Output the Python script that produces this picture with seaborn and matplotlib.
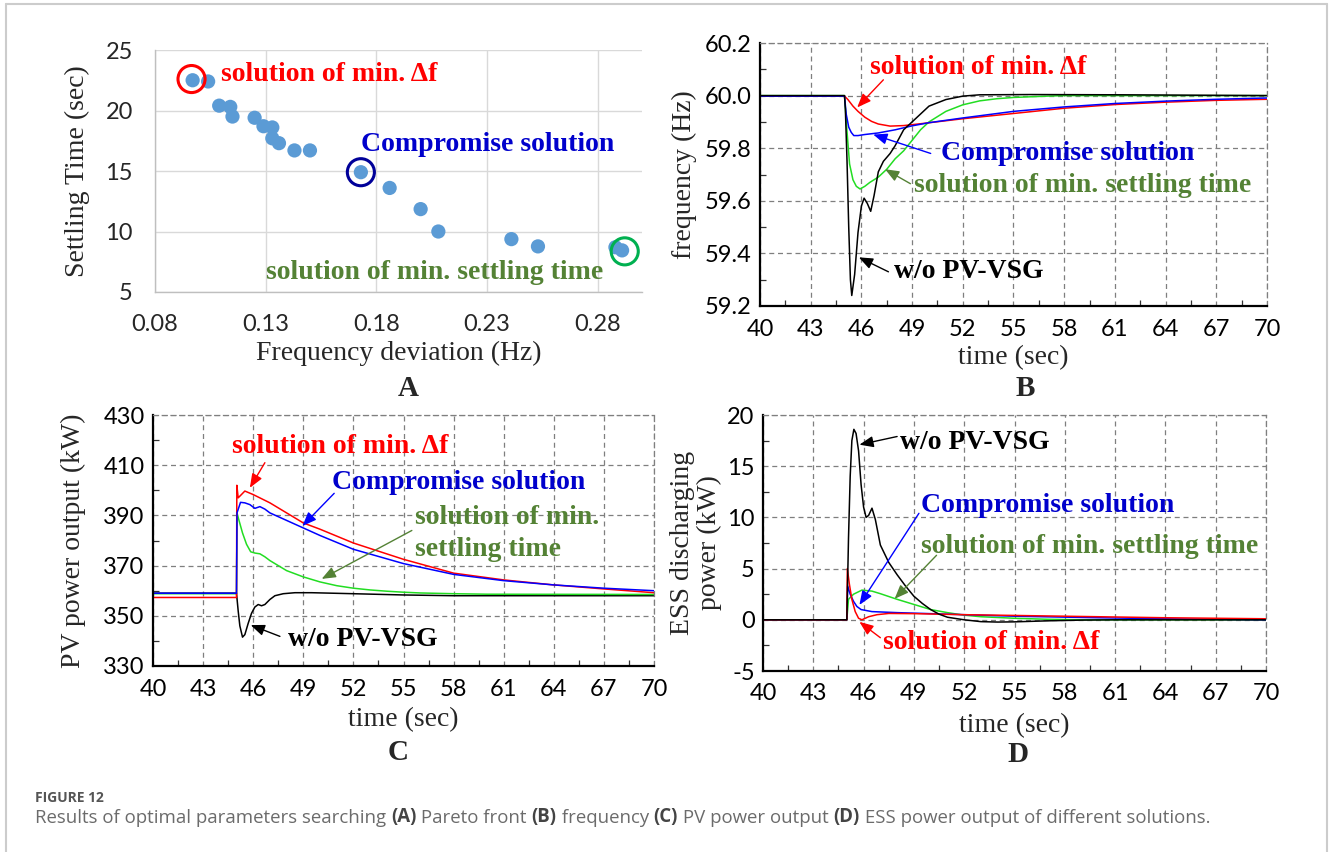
import matplotlib
matplotlib.use("Agg")
import matplotlib.pyplot as plt
import seaborn as sns
from matplotlib.ticker import MultipleLocator, FormatStrFormatter
from matplotlib.lines import Line2D

# ---- (A) Pareto front ----
freq_dev = [0.097, 0.104, 0.109, 0.114, 0.115, 0.125, 0.129, 0.133, 0.133, 0.136,
            0.143, 0.150, 0.173, 0.186, 0.200, 0.208, 0.241, 0.253, 0.288, 0.291]
settling_time = [22.5, 22.4, 20.4, 20.3, 19.5, 19.4, 18.7, 18.6, 17.7, 17.3,
                 16.7, 16.7, 14.9, 13.6, 11.85, 10.0, 9.37, 8.77, 8.7, 8.44]
chosen_dev = [0.0965, 0.173, 0.2922]
chosen_time = [22.6, 14.9, 8.36]

# ---- (B) frequency ----
b_t_black = [40, 45.0, 45.05, 45.15, 45.25, 45.35, 45.43, 45.6, 45.8, 46.0, 46.16, 46.35, 46.55,
             46.75, 47.0, 47.3, 47.7, 48.0, 48.5, 49.0, 49.5, 50.0, 51.0, 52.0, 53.0, 56.0, 61.5, 70]
b_f_black = [60.0, 60.0, 59.95, 59.75, 59.5, 59.3, 59.24, 59.32, 59.48, 59.58, 59.61, 59.59, 59.56,
             59.62, 59.71, 59.75, 59.78, 59.81, 59.87, 59.90, 59.93, 59.96, 59.985, 59.998, 60.003,
             60.004, 60.003, 60.0]
b_t_green = [40, 45.0, 45.14, 45.3, 45.5, 45.7, 45.92, 46.2, 46.5, 47.0, 47.5, 48.0, 48.5, 49.0,
             49.5, 50.0, 51.0, 52.0, 53.0, 54.0, 55.0, 57.0, 58.0, 70]
b_f_green = [60.0, 60.0, 59.87, 59.74, 59.68, 59.655, 59.645, 59.655, 59.67, 59.69, 59.72, 59.76,
             59.79, 59.83, 59.87, 59.90, 59.94, 59.965, 59.98, 59.988, 59.993, 59.998, 60.0, 60.0]
b_t_blue = [40, 45.0, 45.1, 45.25, 45.4, 45.55, 45.8, 46.2, 47.0, 48.0, 49.0, 50.0, 52.0, 55.0,
            58.0, 61.0, 64.0, 67.0, 70]
b_f_blue = [59.998, 59.998, 59.93, 59.88, 59.86, 59.848, 59.848, 59.852, 59.858, 59.87, 59.885,
            59.897, 59.915, 59.94, 59.957, 59.97, 59.979, 59.986, 59.991]
b_t_red = [40, 45.0, 45.2, 45.5, 45.8, 46.2, 46.6, 47.0, 47.7, 48.5, 49.5, 52.0, 55.0, 58.0,
           61.0, 64.0, 67.0, 70]
b_f_red = [59.998, 59.998, 59.985, 59.96, 59.94, 59.918, 59.902, 59.892, 59.884, 59.886, 59.893,
           59.912, 59.932, 59.952, 59.966, 59.975, 59.982, 59.986]

# ---- (C) PV power output ----
c_t_black = [40, 45.0, 45.1, 45.2, 45.36, 45.5, 45.7, 45.9, 46.1, 46.3, 46.5, 46.7, 47.0, 47.3,
             47.8, 48.5, 49.5, 52, 55, 58, 70]
c_p_black = [359, 359, 352, 346, 341.5, 342.5, 347, 351, 353.5, 354.5, 354, 354.5, 356.5, 358,
             358.8, 359.2, 359.2, 358.8, 358.3, 358, 358]
c_t_green = [40, 45.0, 45.03, 45.15, 45.36, 45.6, 45.85, 46.1, 46.4, 46.7, 47, 48, 49, 50, 51,
             52, 53, 54, 55, 56, 58, 60, 70]
c_p_green = [358.8, 358.8, 391, 388, 383, 378.5, 375.5, 375, 374.7, 373.5, 372, 368, 365.5,
             363.5, 362, 361, 360.3, 359.8, 359.4, 359.1, 358.8, 358.6, 358.5]
c_t_red = [40, 45.0, 45.02, 45.1, 45.25, 45.5, 46.0, 47, 48, 49, 50, 52, 55, 58, 61, 64, 67, 70]
c_p_red = [357.3, 357.3, 402, 397, 398, 399.7, 398.3, 395, 391, 387, 384.5, 379, 372.5, 367,
           364.3, 362.3, 360.7, 359.2]
c_t_blue = [40, 45.0, 45.03, 45.24, 45.5, 45.8, 46.1, 46.4, 46.7, 47, 48, 49, 50, 52, 55, 58,
            61, 64, 67, 70]
c_p_blue = [359, 359, 391, 395.2, 395, 394.3, 392.8, 393.5, 392.5, 391, 388, 385, 382, 376.5,
            370.8, 366.5, 364, 362.3, 361, 360]

# ---- (D) ESS discharging power ----
d_t_black = [40, 45.0, 45.1, 45.2, 45.3, 45.42, 45.55, 45.7, 45.85, 46.0, 46.15, 46.3, 46.5,
             46.7, 47.0, 47.5, 48.0, 48.5, 49.0, 49.5, 50.0, 50.5, 51.0, 52.0, 53.0, 54.0, 55.0,
             57.0, 59.0, 61.0, 70]
d_e_black = [0, 0, 8, 14, 17.5, 18.6, 18.2, 16.5, 13.2, 11, 10.0, 10.2, 10.9, 9.8, 7.3, 5.6,
             4.4, 3.3, 2.3, 1.6, 1.0, 0.55, 0.25, 0.0, -0.18, -0.22, -0.2, -0.1, -0.03, 0, 0]
d_t_red = [40, 45.0, 45.03, 45.15, 45.3, 45.5, 45.7, 45.9, 46.3, 46.8, 47.5, 49, 52, 56, 60,
           64, 67, 70]
d_e_red = [0, 0, 5.0, 3.5, 2.0, 0.8, 0.15, 0.0, 0.3, 0.5, 0.62, 0.6, 0.5, 0.4, 0.3, 0.2, 0.15, 0.1]
d_t_blue = [40, 45.0, 45.05, 45.2, 45.4, 45.6, 45.85, 46.5, 48, 50, 52, 55, 60, 64, 67, 70]
d_e_blue = [0, 0, 3.3, 2.5, 1.8, 1.3, 1.0, 0.8, 0.7, 0.6, 0.5, 0.35, 0.2, 0.1, 0.05, 0.0]
d_t_green = [40, 45.0, 45.1, 45.4, 45.9, 46.5, 47, 48, 49, 50, 51, 52, 53, 55, 57, 59, 70]
d_e_green = [0, 0, 2.0, 2.5, 2.9, 2.8, 2.55, 2.0, 1.5, 1.0, 0.7, 0.45, 0.3, 0.15, 0.05, 0.0, 0.0]

# colours
RED, BLUE, GREEN, BLACK = "#FF0000", "#0000FF", "#22DD22", "#000000"
T_RED, T_BLUE, T_GREEN = "#FF0000", "#0000CC", "#548235"
DOT = "#5B9BD5"

W, H = 1332, 852
SERIF = ["Liberation Serif", "DejaVu Serif"]
NOTE_SIZE = 20
TICK_SIZE = 17
LABEL_SIZE = 20

sns.set_theme(style="white")
plt.rcParams["font.family"] = SERIF
plt.rcParams["axes.unicode_minus"] = False

fig = plt.figure(figsize=(W / 100, H / 100), dpi=100)


def px_box(l, r, t, b):
    return [l / W, 1 - b / H, (r - l) / W, (b - t) / H]


def label_coords(ax, box, ylab_x, xlab_y):
    l, r, t, b = box
    ax.yaxis.set_label_coords((ylab_x - l) / (r - l), 0.5)
    ax.xaxis.set_label_coords(0.5, -(xlab_y - b) / (b - t))


def note(ax, x, y, s, color):
    ax.text(x, y, s, color=color, fontsize=NOTE_SIZE, fontweight="bold", va="center",
            ha="left", family=SERIF)


def arrow(ax, tail, head, color):
    ax.annotate("", xy=head, xytext=tail,
                arrowprops=dict(arrowstyle="-|>,head_length=0.7,head_width=0.28",
                                color=color, lw=1.0, shrinkA=0, shrinkB=0))


def style_time_axes(ax, ylim, step, offset, fmt):
    ax.set_xlim(40, 70)
    ax.set_ylim(*ylim)
    ax.xaxis.set_major_locator(MultipleLocator(3, offset=1))
    ax.xaxis.set_minor_locator(MultipleLocator(1.5, offset=1))
    ax.yaxis.set_major_locator(MultipleLocator(step, offset=offset))
    ax.yaxis.set_minor_locator(MultipleLocator(step / 2, offset=offset))
    ax.yaxis.set_major_formatter(FormatStrFormatter(fmt))
    ax.xaxis.set_major_formatter(FormatStrFormatter("%d"))
    ax.grid(True, which="major", linestyle=(0, (4, 3)), color="#7f7f7f", lw=0.9)
    ax.tick_params(which="major", length=0, labelsize=TICK_SIZE, labelfontfamily="Lato",
                   labelcolor="black")
    ax.tick_params(axis="x", which="major", pad=9)
    ax.tick_params(axis="y", which="major", pad=6)
    ax.tick_params(which="minor", direction="in", length=4, width=0.9, color="#333333",
                   left=True, bottom=True)
    for s in ["left", "bottom"]:
        ax.spines[s].set_color("black")
        ax.spines[s].set_linewidth(1.6)
    for s in ["top", "right"]:
        ax.spines[s].set_color("#7f7f7f")
        ax.spines[s].set_linestyle((0, (4, 3)))
        ax.spines[s].set_linewidth(0.9)


def line(ax, t, v, color):
    sns.lineplot(x=t, y=v, ax=ax, color=color, lw=1.1, estimator=None, sort=False)


# ================= A =================
box_a = (155, 642, 50, 292)
ax_a = fig.add_axes(px_box(*box_a))
sns.scatterplot(x=freq_dev, y=settling_time, ax=ax_a, s=105, color=DOT, edgecolor="none",
                zorder=3)
for cx, cy, c in zip(chosen_dev, chosen_time, [RED, "#000099", "#00B050"]):
    ax_a.scatter([cx], [cy], s=380, facecolors="none", edgecolors=c, linewidths=2.2, zorder=4)
ax_a.set_xlim(0.08, 0.30)
ax_a.set_ylim(5, 25)
ax_a.set_xticks([0.08, 0.13, 0.18, 0.23, 0.28])
ax_a.set_yticks([5, 10, 15, 20, 25])
ax_a.xaxis.set_major_formatter(FormatStrFormatter("%.2f"))
ax_a.grid(True, color="#d9d9d9", lw=1.0)
ax_a.tick_params(length=0, labelsize=TICK_SIZE, labelfontfamily="Lato", pad=16)
for s in ["top", "right"]:
    ax_a.spines[s].set_visible(False)
for s in ["left", "bottom"]:
    ax_a.spines[s].set_color("#bfbfbf")
    ax_a.spines[s].set_linewidth(1.0)
ax_a.set_xlabel("Frequency deviation (Hz)", fontsize=LABEL_SIZE)
ax_a.set_ylabel("Settling Time (sec)", fontsize=LABEL_SIZE)
note(ax_a, 0.110, 23.0, "solution of min. Δf", T_RED)
note(ax_a, 0.1732, 17.16, "Compromise solution", T_BLUE)
note(ax_a, 0.1302, 6.62, "solution of min. settling time", T_GREEN)
label_coords(ax_a, box_a, 90, 341)

# ================= B =================
box_b = (760, 1267, 43, 306)
ax_b = fig.add_axes(px_box(*box_b))
line(ax_b, b_t_green, b_f_green, GREEN)
line(ax_b, b_t_red, b_f_red, RED)
line(ax_b, b_t_blue, b_f_blue, BLUE)
line(ax_b, b_t_black, b_f_black, BLACK)
style_time_axes(ax_b, (59.2, 60.2), 0.2, 0, "%.1f")
ax_b.set_xlabel("time (sec)", fontsize=LABEL_SIZE)
ax_b.set_ylabel("frequency (Hz)", fontsize=LABEL_SIZE)
note(ax_b, 46.5, 60.105, "solution of min. Δf", T_RED)
arrow(ax_b, (47.3, 60.06), (45.75, 59.955), RED)
note(ax_b, 50.7, 59.78, "Compromise solution", T_BLUE)
arrow(ax_b, (50.1, 59.78), (46.7, 59.852), BLUE)
note(ax_b, 49.1, 59.66, "solution of min. settling time", T_GREEN)
arrow(ax_b, (48.9, 59.665), (47.4, 59.72), T_GREEN)
note(ax_b, 47.9, 59.33, "w/o PV-VSG", BLACK)
arrow(ax_b, (47.6, 59.33), (45.85, 59.385), BLACK)
label_coords(ax_b, box_b, 697, 345)

# ================= C =================
box_c = (153, 654, 415, 666)
ax_c = fig.add_axes(px_box(*box_c))
line(ax_c, c_t_black, c_p_black, BLACK)
line(ax_c, c_t_green, c_p_green, GREEN)
line(ax_c, c_t_red, c_p_red, RED)
line(ax_c, c_t_blue, c_p_blue, BLUE)
style_time_axes(ax_c, (330, 430), 20, 10, "%d")
ax_c.set_xlabel("time (sec)", fontsize=LABEL_SIZE)
ax_c.set_ylabel("PV power output (kW)", fontsize=LABEL_SIZE)
note(ax_c, 44.76, 417.4, "solution of min. Δf", T_RED)
arrow(ax_c, (46.7, 411.0), (45.8, 401.0), RED)
note(ax_c, 50.7, 403.0, "Compromise solution", T_BLUE)
arrow(ax_c, (50.85, 398.8), (48.95, 385.8), BLUE)
note(ax_c, 55.7, 389.2, "solution of min.", T_GREEN)
note(ax_c, 55.7, 376.5, "settling time", T_GREEN)
arrow(ax_c, (55.5, 384.0), (50.1, 364.7), T_GREEN)
note(ax_c, 48.1, 340.6, "w/o PV-VSG", BLACK)
arrow(ax_c, (47.6, 341.8), (45.85, 346.3), BLACK)
label_coords(ax_c, box_c, 86, 707)

# ================= D =================
box_d = (763, 1266, 415, 671)
ax_d = fig.add_axes(px_box(*box_d))
line(ax_d, d_t_green, d_e_green, GREEN)
line(ax_d, d_t_blue, d_e_blue, BLUE)
line(ax_d, d_t_red, d_e_red, RED)
line(ax_d, d_t_black, d_e_black, BLACK)
style_time_axes(ax_d, (-5, 20), 5, 0, "%d")
ax_d.set_xlabel("time (sec)", fontsize=LABEL_SIZE)
ax_d.set_ylabel("ESS discharging\npower (kW)", fontsize=LABEL_SIZE, linespacing=1.1)
note(ax_d, 48.2, 17.3, "w/o PV-VSG", BLACK)
arrow(ax_d, (48.0, 17.9), (45.75, 17.1), BLACK)
note(ax_d, 49.4, 11.2, "Compromise solution", T_BLUE)
arrow(ax_d, (49.3, 10.4), (45.75, 1.45), BLUE)
note(ax_d, 49.4, 7.2, "solution of min. settling time", T_GREEN)
arrow(ax_d, (50.35, 6.3), (47.85, 2.05), T_GREEN)
note(ax_d, 47.15, -2.2, "solution of min. Δf", T_RED)
arrow(ax_d, (47.0, -1.75), (45.75, -0.2), RED)
label_coords(ax_d, box_d, 722, 713)

# panel letters
for lx, ly, letter in [(408, 388, "A"), (1025, 389, "B"), (398, 752, "C"), (1018, 754, "D")]:
    fig.text(lx / W, 1 - ly / H, letter, fontsize=21, fontweight="bold", ha="center",
             va="center", family=SERIF)

# caption
fig.text(35 / W, 1 - 798 / H, "FIGURE 12", fontsize=10, fontweight="bold", color="#555555",
         va="center", ha="left", family=["Open Sans", "DejaVu Sans"])
pieces = [("Results of optimal parameters searching ", "normal"), ("(A)", "bold"),
          (" Pareto front ", "normal"), ("(B)", "bold"), (" frequency ", "normal"),
          ("(C)", "bold"), (" PV power output ", "normal"), ("(D)", "bold"),
          (" ESS power output of different solutions.", "normal")]
prev = fig.text(35 / W, 1 - 823 / H, pieces[0][0], fontsize=13.4, color="#6b6b6b",
                va="baseline", ha="left", family=["Open Sans", "DejaVu Sans"])
for s, wgt in pieces[1:]:
    prev = ax_a.annotate(s, xy=(1, 0), xycoords=prev, va="bottom", ha="left",
                         fontsize=13.4, fontweight=wgt,
                         color="#444444" if wgt == "bold" else "#6b6b6b",
                         family=["Open Sans", "DejaVu Sans"], annotation_clip=False)

# light frame around the figure
frame = dict(transform=fig.transFigure, color="#cccccc", lw=1.5)
fig.add_artist(Line2D([6 / W, 1327 / W], [1 - 4 / H, 1 - 4 / H], **frame))
fig.add_artist(Line2D([6 / W, 6 / W], [0, 1 - 4 / H], **frame))
fig.add_artist(Line2D([1327 / W, 1327 / W], [0, 1 - 4 / H], **frame))

fig.savefig("out.png", dpi=100, facecolor="white")
